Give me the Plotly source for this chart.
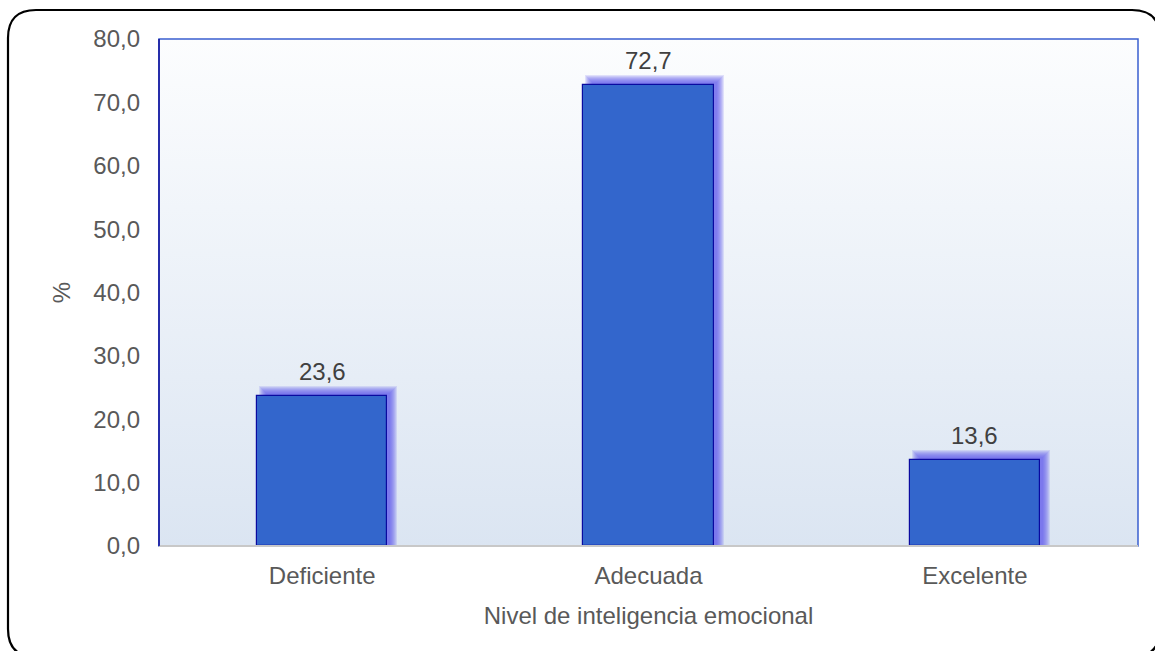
import plotly.graph_objects as go

# Data
categories = ["Deficiente", "Adecuada", "Excelente"]
percentages = [23.6, 72.7, 13.6]
y_ticks = [0, 10, 20, 30, 40, 50, 60, 70, 80]

# Canvas geometry (pixels)
W, H = 1155, 651
L_M, R_M, T_M, B_M = 159, 17, 39, 105
PW, PH = W - L_M - R_M, H - T_M - B_M
Y_MAX = 80.0
X_LO, X_HI = -0.5, len(categories) - 0.5
BAR_W = 0.4

px_x = (X_HI - X_LO) / PW   # data units per pixel, x
px_y = Y_MAX / PH           # data units per pixel, y

FONT = "Liberation Sans, Arial, sans-serif"
FS = 24
xs = list(range(len(categories)))

fig = go.Figure()

# Plot-area background: vertical gradient (on the base axes, drawn first)
fig.add_trace(go.Scatter(
    x=[X_LO, X_HI, X_HI, X_LO, X_LO], y=[0, 0, Y_MAX, Y_MAX, 0],
    mode="lines", line=dict(width=0), fill="toself",
    fillgradient=dict(type="vertical",
                      colorscale=[[0, "#dbe5f2"], [1, "#fcfdfe"]]),
    hoverinfo="skip", showlegend=False, xaxis="x", yaxis="y"))

# Soft offset shadow behind each bar (many thin translucent layers = blur)
for grow in [-3, -2, -1, 0, 1, 2, 3, 4]:
    fig.add_trace(go.Bar(
        x=[x + 6 * px_x for x in xs],
        y=[v + (6 + grow) * px_y for v in percentages],
        width=[BAR_W + 2 * grow * px_x] * len(xs),
        marker=dict(color="rgba(95,85,235,0.16)", line=dict(width=0)),
        hoverinfo="skip", showlegend=False, xaxis="x2", yaxis="y2"))

# Main bars
fig.add_trace(go.Bar(
    x=xs, y=percentages, width=[BAR_W] * len(xs),
    marker=dict(color="#3366cc", line=dict(color="#0a0aa0", width=1.2)),
    showlegend=False, xaxis="x2", yaxis="y2"))

# Value labels
for x, v in zip(xs, percentages):
    fig.add_annotation(x=x, y=v, xref="x2", yref="y2",
                       text=f"{v:.1f}".replace(".", ","),
                       showarrow=False, yanchor="bottom", yshift=9,
                       font=dict(family=FONT, size=FS, color="#404040"))

# Plot frame (top/right) and axis lines
fig.add_shape(type="rect", xref="paper", yref="paper", x0=0, x1=1, y0=0, y1=1,
              line=dict(color="#3a5fd0", width=1.5), layer="above")
fig.add_shape(type="line", xref="paper", yref="paper", x0=0, x1=1, y0=0, y1=0,
              line=dict(color="#c8c8c8", width=2), layer="above")
fig.add_shape(type="line", xref="paper", yref="paper", x0=0, x1=0, y0=0, y1=1,
              line=dict(color="#10109a", width=1.5), layer="above")

# Rounded outer border of the chart
def fx(p):
    return (p - L_M) / PW

def fy(p):
    return (H - B_M - p) / PH

bl, bt, br, bb, r = 8, 10, 1160, 657, 28
path = (f"M {fx(bl)},{fy(bt + r)} Q {fx(bl)},{fy(bt)} {fx(bl + r)},{fy(bt)} "
        f"L {fx(br - r)},{fy(bt)} Q {fx(br)},{fy(bt)} {fx(br)},{fy(bt + r)} "
        f"L {fx(br)},{fy(bb - r)} Q {fx(br)},{fy(bb)} {fx(br - r)},{fy(bb)} "
        f"L {fx(bl + r)},{fy(bb)} Q {fx(bl)},{fy(bb)} {fx(bl)},{fy(bb - r)} Z")
fig.add_shape(type="path", xref="paper", yref="paper", path=path,
              line=dict(color="#000000", width=2.2), layer="above")

hidden = dict(showgrid=False, zeroline=False, showline=False, ticks="",
              showticklabels=False, fixedrange=True)

fig.update_layout(
    width=W, height=H,
    margin=dict(l=L_M, r=R_M, t=T_M, b=B_M),
    paper_bgcolor="white", plot_bgcolor="white",
    barmode="overlay", bargap=0,
    separators=",.",
    font=dict(family=FONT, size=FS, color="#595959"),
    xaxis=dict(range=[X_LO, X_HI], tickvals=xs, ticktext=categories,
               showgrid=False, zeroline=False, showline=False, ticks="",
               ticklabelstandoff=13,
               title=dict(text="Nivel de inteligencia emocional", standoff=19,
                          font=dict(size=FS, color="#595959")),
               fixedrange=True),
    yaxis=dict(range=[0, Y_MAX], tickvals=y_ticks,
               ticktext=[f"{t:.1f}".replace(".", ",") for t in y_ticks],
               showgrid=False, zeroline=False, showline=False, ticks="",
               ticklabelstandoff=18,
               title=dict(text="%", standoff=15,
                          font=dict(size=FS, color="#595959")),
               fixedrange=True),
    xaxis2=dict(range=[X_LO, X_HI], overlaying="x", **hidden),
    yaxis2=dict(range=[0, Y_MAX], overlaying="y", **hidden),
)

fig.write_html("out.html")
